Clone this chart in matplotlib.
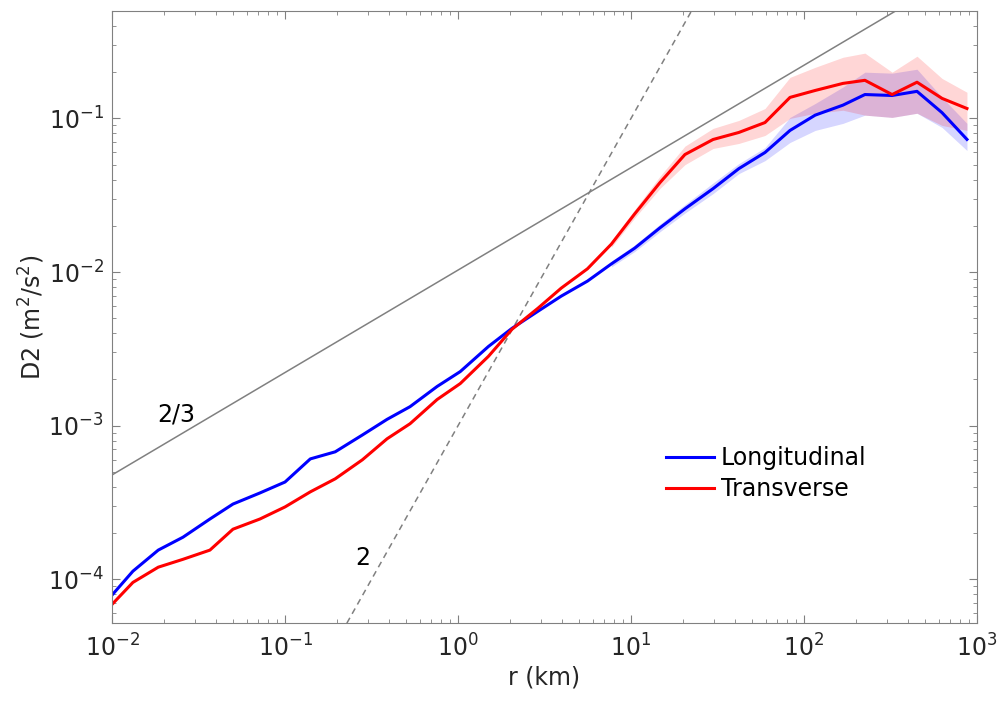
import numpy as np
import matplotlib
matplotlib.use("Agg")
import matplotlib.pyplot as plt

# separation r (km), shared by both components
r = [0.01, 0.0132, 0.0185, 0.0257, 0.0368, 0.050, 0.0716, 0.1, 0.14, 0.195,
     0.28, 0.389, 0.528, 0.757, 1.03, 1.5, 2.05, 2.9, 3.95, 5.6,
     7.7, 10.5, 14.7, 20.5, 29.8, 42, 59.5, 83, 116, 168,
     225, 323, 450, 628, 875]

d2_long = [7.9e-5, 1.13e-4, 1.55e-4, 1.88e-4, 2.47e-4, 3.09e-4, 3.65e-4, 4.3e-4, 6.08e-4, 6.76e-4,
           8.7e-4, 1.1e-3, 1.33e-3, 1.8e-3, 2.25e-3, 3.28e-3, 4.3e-3, 5.56e-3, 6.97e-3, 8.73e-3,
           1.13e-2, 1.43e-2, 1.94e-2, 2.58e-2, 3.49e-2, 4.71e-2, 6.0e-2, 8.35e-2, 0.105, 0.122,
           0.143, 0.141, 0.15, 0.109, 0.073]

d2_trans = [6.87e-5, 9.55e-5, 1.2e-4, 1.35e-4, 1.55e-4, 2.12e-4, 2.47e-4, 2.96e-4, 3.71e-4, 4.51e-4,
            6.0e-4, 8.22e-4, 1.03e-3, 1.48e-3, 1.88e-3, 2.83e-3, 4.24e-3, 5.82e-3, 7.86e-3, 1.05e-2,
            1.52e-2, 2.39e-2, 3.82e-2, 5.82e-2, 7.29e-2, 8.1e-2, 9.4e-2, 0.137, 0.152, 0.169,
            0.177, 0.143, 0.172, 0.135, 0.116]

# confidence bands, only visible from r ~ 8 km on
band_start = 20
long_lo = [0.0108, 0.0136, 0.0183, 0.0242, 0.0324, 0.0437, 0.0531, 0.0697, 0.0835, 0.0928,
           0.105, 0.1015, 0.108, 0.0873, 0.0618]
long_hi = [0.0118, 0.015, 0.0205, 0.0275, 0.038, 0.0508, 0.0646, 0.1015, 0.125, 0.16,
           0.2, 0.197, 0.209, 0.137, 0.0928]
trans_lo = [0.0145, 0.0225, 0.035, 0.050, 0.0637, 0.0687, 0.0774, 0.1, 0.108, 0.113,
            0.105, 0.1015, 0.108, 0.09, 0.0835]
trans_hi = [0.016, 0.0255, 0.042, 0.066, 0.0861, 0.097, 0.116, 0.185, 0.215, 0.25,
            0.266, 0.20, 0.254, 0.182, 0.148]

# reference slopes
slope23_coef = 0.0103
slope2_coef = 1.0e-3

fs = 17

fig = plt.figure(figsize=(10.04, 7.06), dpi=100)
ax = fig.add_axes([0.1116, 0.1176, 0.8615, 0.8668])

rr = np.logspace(-2, 3, 200)
ax.plot(rr, slope23_coef * rr ** (2 / 3), color="#808080", lw=1.1)
ax.plot(rr, slope2_coef * rr ** 2, color="#808080", lw=1.1, ls=(0, (4, 3)))

rb = r[band_start:]
ax.fill_between(rb, long_lo, long_hi, color=(0, 0, 1), alpha=0.16, lw=0)
ax.fill_between(rb, trans_lo, trans_hi, color=(1, 0, 0), alpha=0.16, lw=0)

ax.plot(r, d2_long, color=(0, 0, 1), lw=2.2, label="Longitudinal")
ax.plot(r, d2_trans, color=(1, 0, 0), lw=2.2, label="Transverse")

ax.text(0.0235, 1.18e-3, "2/3", fontsize=fs, ha="center", va="center")
ax.text(0.283, 1.37e-4, "2", fontsize=fs, ha="center", va="center")

ax.set_xscale("log")
ax.set_yscale("log")
ax.set_xlim(1e-2, 1e3)
ax.set_ylim(5.2e-5, 0.5)

for s in ax.spines.values():
    s.set_color("#808080")
ax.tick_params(which="both", direction="in", top=True, right=True,
               color="#808080", labelcolor="#262626", labelsize=fs)
ax.tick_params(which="major", length=6)
ax.tick_params(which="minor", length=3)
ax.tick_params(axis="x", pad=8)
ax.tick_params(axis="y", pad=6)

ax.set_xlabel("r (km)", fontsize=fs, color="#262626", labelpad=3)
ax.set_ylabel("D2 (m$^2$/s$^2$)", fontsize=fs, color="#262626", labelpad=1)

ax.legend(loc="upper left", bbox_to_anchor=(0.63, 0.305), frameon=False,
          fontsize=fs, handlelength=2.0, handletextpad=0.3, labelspacing=0.3,
          borderaxespad=0)

fig.savefig("out.png", dpi=100)
